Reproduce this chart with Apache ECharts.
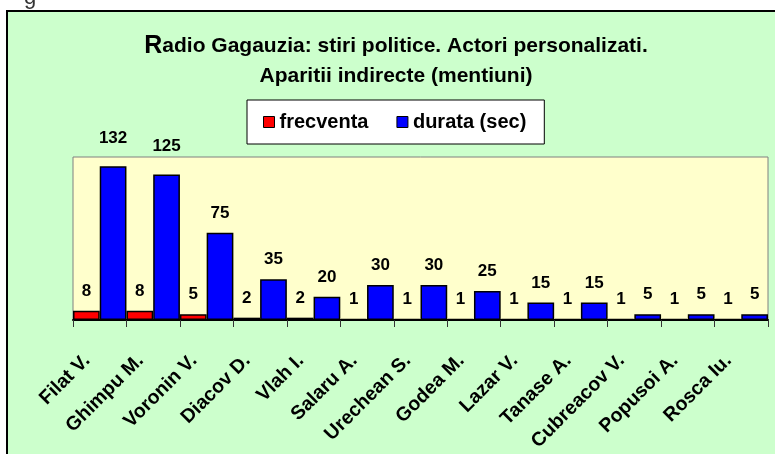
<!DOCTYPE html>
<html>
<head>
<meta charset="utf-8">
<script src="https://cdn.jsdelivr.net/npm/echarts@6/dist/echarts.min.js"></script>
<style>
  html, body { margin: 0; padding: 0; background: #fff; }
  #chart { width: 775px; height: 454px; }
</style>
</head>
<body>
<div id="chart"></div>
<script>
// actors (x axis)
const actors = ['Filat V.', 'Ghimpu M.', 'Voronin V.', 'Diacov D.', 'Vlah I.', 'Salaru A.',
    'Urechean S.', 'Godea M.', 'Lazar V.', 'Tanase A.', 'Cubreacov V.', 'Popusoi A.', 'Rosca Iu.'];
// number of mentions
const frecventa = [8, 8, 5, 2, 2, 1, 1, 1, 1, 1, 1, 1, 1];
// duration in seconds
const durata = [132, 125, 75, 35, 20, 30, 30, 25, 15, 15, 5, 5, 5];

const font = 'Liberation Sans, Arial, sans-serif';

function barData(values) {
    // the two tallest labels sit a bit higher in the original
    return values.map(v => ({
        value: v,
        label: {distance: v > 100 ? 20 : 11}
    }));
}

const chart = echarts.init(document.getElementById('chart'), null, {renderer: 'canvas'});

chart.setOption({
    animation: false,
    backgroundColor: '#ffffff',
    textStyle: {fontFamily: font},
    graphic: [
        {
            type: 'rect',
            z: -10,
            shape: {x: 7, y: 11, width: 820, height: 500},
            style: {fill: '#CCFFCC', stroke: '#000', lineWidth: 2}
        },
        {
            // bottom of a cut-off caption letter above the chart
            type: 'text',
            z: -5,
            x: 24,
            y: -13,
            style: {text: 'g', fill: '#333', fontSize: 22, fontFamily: font}
        }
    ],
    title: {
        left: 396,
        top: 31,
        padding: 0,
        textAlign: 'center',
        text: '{r|R}{t|adio Gagauzia: stiri politice. Actori personalizati.}\n{t|Aparitii indirecte (mentiuni)}',
        textStyle: {
            rich: {
                r: {fontSize: 25, fontWeight: 'bold', color: '#000', lineHeight: 30, fontFamily: font},
                t: {fontSize: 21, fontWeight: 'bold', color: '#000', lineHeight: 30, fontFamily: font}
            }
        }
    },
    legend: {
        left: 247,
        top: 100,
        orient: 'horizontal',
        backgroundColor: '#fff',
        borderColor: '#000',
        borderWidth: 1,
        padding: [12, 18, 12, 16],
        itemGap: 28,
        itemWidth: 11,
        itemHeight: 11,
        icon: 'rect',
        itemStyle: {borderColor: '#000', borderWidth: 1},
        textStyle: {fontSize: 20, fontWeight: 'bold', color: '#000', fontFamily: font},
        data: ['frecventa', 'durata (sec)']
    },
    grid: {
        left: 73,
        right: 7,
        top: 157,
        bottom: 134,
        show: true,
        backgroundColor: '#FFFFCC',
        borderColor: '#808080',
        borderWidth: 1
    },
    xAxis: {
        type: 'category',
        data: actors,
        axisLine: {lineStyle: {color: '#000', width: 2}},
        axisTick: {show: true, length: 7, lineStyle: {color: '#333', width: 1}},
        axisLabel: {
            interval: 0,
            rotate: 45,
            margin: 25,
            padding: [0, 18, 0, 0],
            fontSize: 19.5,
            fontWeight: 'bold',
            color: '#000',
            fontFamily: font
        }
    },
    yAxis: {
        type: 'value',
        min: 0,
        max: 140,
        show: false,
        splitLine: {show: false}
    },
    series: [
        {
            name: 'frecventa',
            type: 'bar',
            data: barData(frecventa),
            barGap: '0%',
            barCategoryGap: '0%',
            itemStyle: {color: '#FF0000', borderColor: '#000', borderWidth: 1.5},
            label: {show: true, position: 'top', fontSize: 17, fontWeight: 'bold', color: '#000', fontFamily: font}
        },
        {
            name: 'durata (sec)',
            type: 'bar',
            data: barData(durata),
            barGap: '0%',
            barCategoryGap: '0%',
            itemStyle: {color: '#0000FF', borderColor: '#000', borderWidth: 1.5},
            label: {show: true, position: 'top', fontSize: 17, fontWeight: 'bold', color: '#000', fontFamily: font}
        }
    ]
});
</script>
</body>
</html>
